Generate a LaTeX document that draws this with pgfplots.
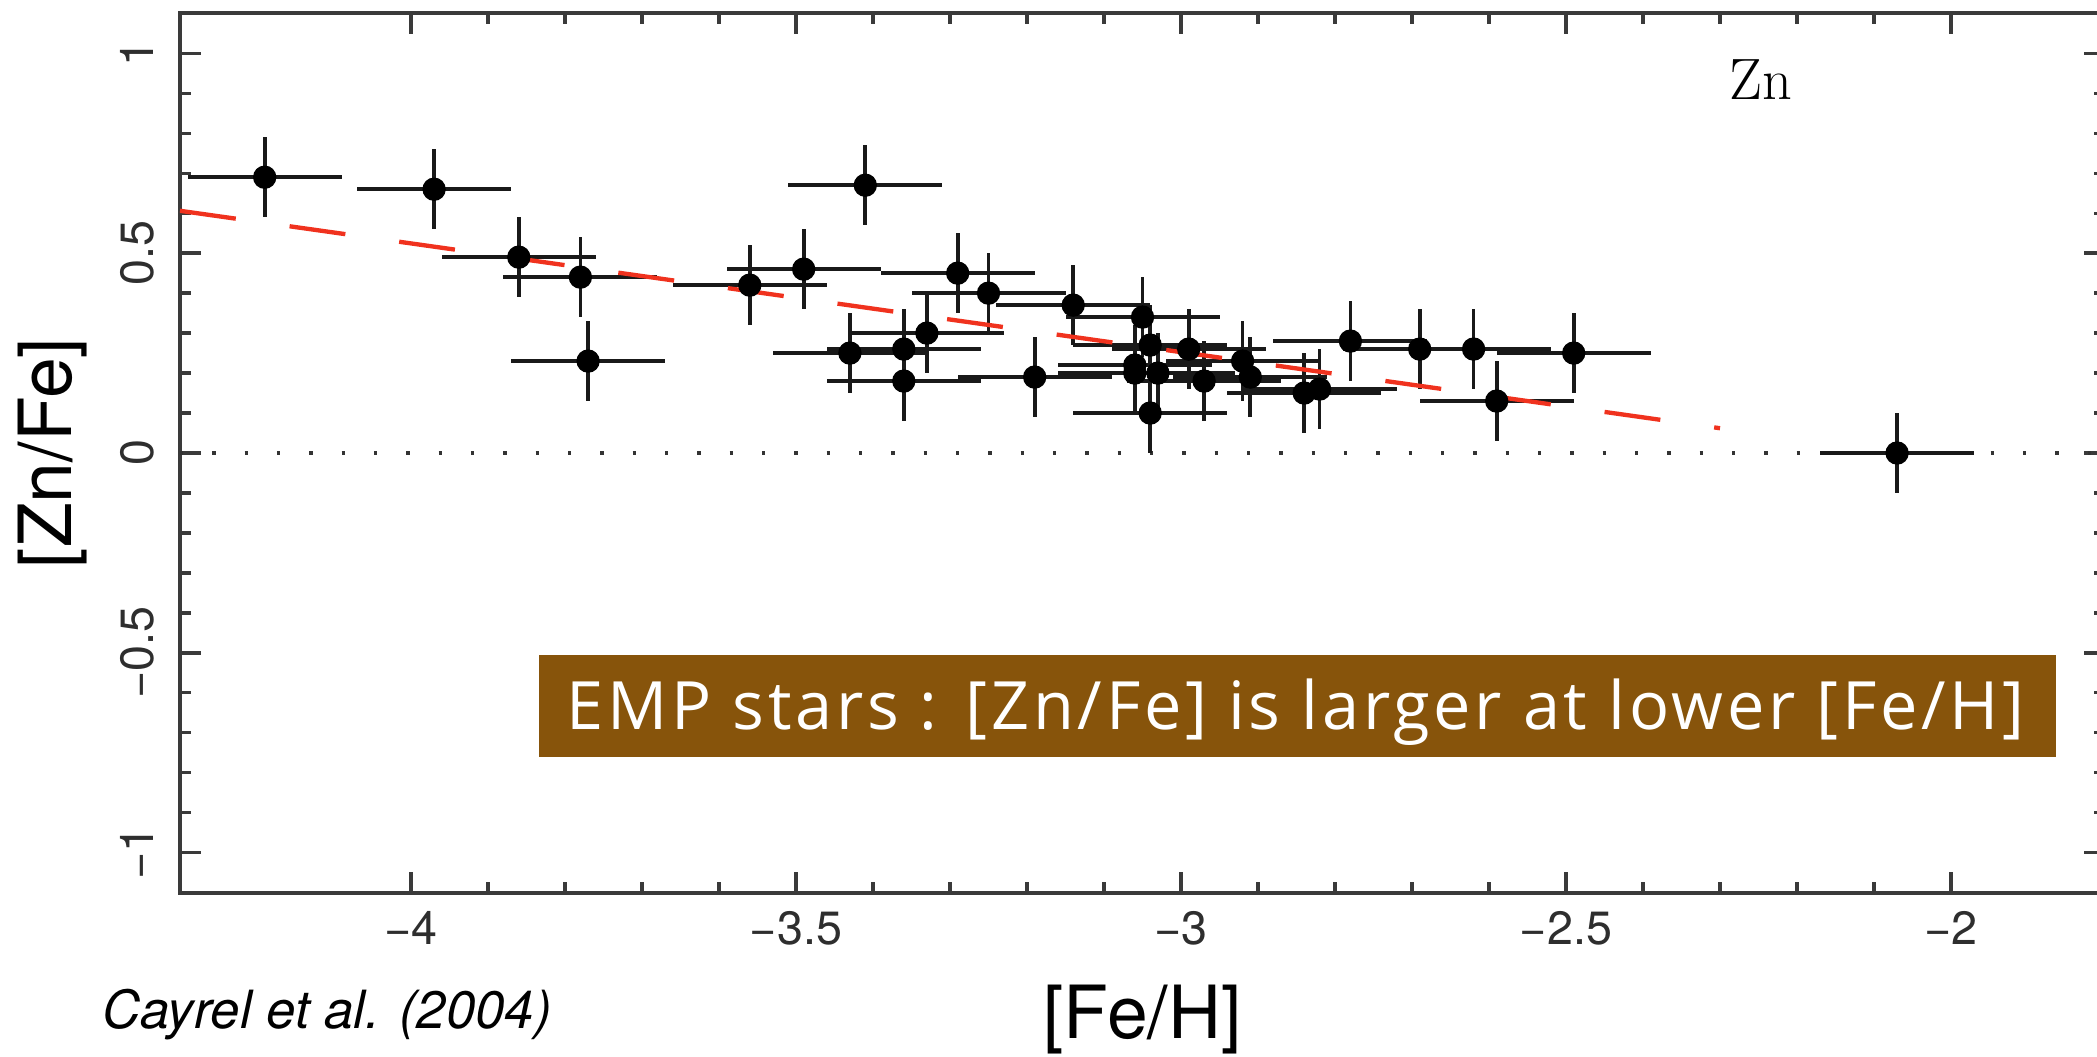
\documentclass[border=0pt]{standalone}
\usepackage{fontspec}
\usepackage{pgfplots}
\usepackage{pgfplotstable}
\pgfplotsset{compat=1.18}

\newfontfamily\helv{TeX Gyre Heros}
\newfontfamily\notefont{Open Sans}

\definecolor{axisgray}{HTML}{3A3A3A}
\definecolor{labelgray}{HTML}{2E2E2E}
\definecolor{fitred}{HTML}{F0321E}
\definecolor{notebrown}{HTML}{87540B}

% [Fe/H], [Zn/Fe] and their uncertainties for the EMP giant sample
\pgfplotstableread{
x      y     ex   ey
-4.19  0.69  0.1  0.1
-3.97  0.66  0.1  0.1
-3.86  0.49  0.1  0.1
-3.78  0.44  0.1  0.1
-3.77  0.23  0.1  0.1
-3.56  0.42  0.1  0.1
-3.49  0.46  0.1  0.1
-3.41  0.67  0.1  0.1
-3.43  0.25  0.1  0.1
-3.36  0.26  0.1  0.1
-3.36  0.18  0.1  0.1
-3.33  0.30  0.1  0.1
-3.29  0.45  0.1  0.1
-3.25  0.40  0.1  0.1
-3.19  0.19  0.1  0.1
-3.14  0.37  0.1  0.1
-3.05  0.34  0.1  0.1
-3.04  0.27  0.1  0.1
-3.06  0.22  0.1  0.1
-3.06  0.20  0.1  0.1
-3.03  0.20  0.1  0.1
-3.04  0.10  0.1  0.1
-2.99  0.26  0.1  0.1
-2.97  0.18  0.1  0.1
-2.92  0.23  0.1  0.1
-2.91  0.19  0.1  0.1
-2.84  0.15  0.1  0.1
-2.82  0.16  0.1  0.1
-2.78  0.28  0.1  0.1
-2.69  0.26  0.1  0.1
-2.62  0.26  0.1  0.1
-2.49  0.25  0.1  0.1
-2.59  0.13  0.1  0.1
-2.07  0.00  0.1  0.1
}\znfe

\begin{document}
\begin{tikzpicture}
\begin{axis}[
  name=main,
  at={(0,0)}, anchor=south west,
  width=577.5pt, height=263.8pt, scale only axis,
  xmin=-4.3, xmax=-1.8, ymin=-1.1, ymax=1.1,
  xtick={-4,-3.5,-3,-2.5,-2},
  xticklabels={−4,−3.5,−3,−2.5,−2},
  ytick={-1,-0.5,0,0.5,1},
  yticklabels={−1,−0.5,0,0.5,1},
  minor x tick num=4, minor y tick num=4,
  tick align=inside,
  major tick length=6.3pt, minor tick length=3.3pt,
  every tick/.style={axisgray, line width=1pt},
  axis line style={axisgray, line width=1.2pt},
  ticklabel style={font=\helv\fontsize{14}{16}\selectfont, text=labelgray},
  xticklabel shift=2pt,
  yticklabel style={rotate=90, anchor=south},
  yticklabel shift=4.3pt,
  xlabel={[Fe/H]},
  ylabel={[Zn/Fe]},
  every axis x label/.style={at={([yshift=-38pt]axis description cs:0.5,0)},
    anchor=center, inner sep=0pt, font=\helv\fontsize{22}{26}\selectfont},
  every axis y label/.style={at={([xshift=-38.1pt]axis description cs:0,0.5)},
    rotate=90, anchor=center, inner sep=0pt, font=\helv\fontsize{22}{26}\selectfont},
]
  % solar ratio
  \addplot[black!80, line width=1.1pt, dash pattern=on 1pt off 8.7pt]
    coordinates {(-4.3,0) (-1.8,0)};

  % measurements with error bars
  \addplot[only marks, mark=*, mark size=3.3pt,
    mark options={fill=black, draw=black, line width=0.4pt},
    error bars/.cd, x dir=both, x explicit, y dir=both, y explicit,
    error mark=none, error bar style={line width=1.1pt, black!90}]
    table[x=x, y=y, x error=ex, y error=ey] {\znfe};

  % linear trend with [Fe/H]
  \addplot[fitred, line width=1.3pt, dash pattern=on 16.9pt off 16.3pt]
    coordinates {(-4.3,0.606) (-2.3,0.062)};

  \node[font=\fontsize{17.5}{20}\selectfont, inner sep=0pt] at (axis cs:-2.247,0.935) {Zn};

  \fill[notebrown] (axis cs:-3.834,-0.760) rectangle (axis cs:-1.864,-0.505);
  \node[anchor=base, inner sep=0pt, text=white,
    font=\notefont\addfontfeatures{LetterSpace=5.6}\fontsize{20}{24}\selectfont]
    at (axis cs:-2.851,-0.692) {EMP stars : [Zn/Fe] is larger at lower [Fe/H]};
\end{axis}

\node[anchor=base west, inner sep=0pt, font=\helv\itshape\fontsize{15.8}{19}\selectfont]
  at (-23.5pt,-40.6pt) {Cayrel et al. (2004)};

\pgfresetboundingbox
\useasboundingbox (-54pt,-49pt) rectangle (575.1pt,267.8pt);
\end{tikzpicture}
\end{document}
